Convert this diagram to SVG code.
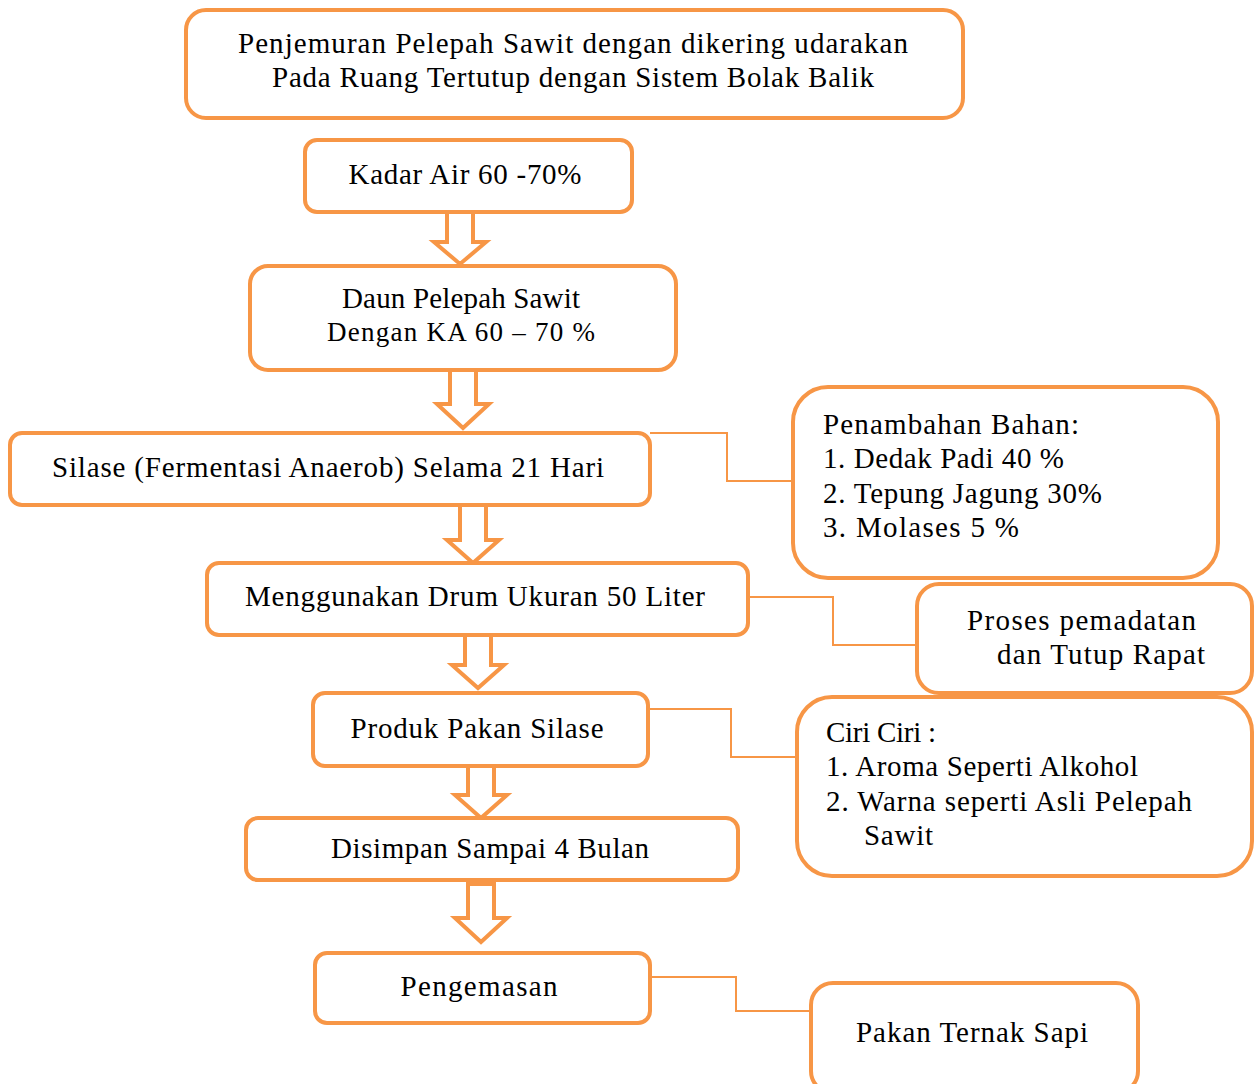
<svg xmlns="http://www.w3.org/2000/svg" width="1254" height="1084" viewBox="0 0 1254 1084">
<style>
.box{fill:#fff;stroke:#F79646;stroke-width:4}
.arr{fill:#fff;stroke:#F79646;stroke-width:4;stroke-linejoin:miter}
.con{fill:none;stroke:#F79646;stroke-width:2}
text{font-family:"Liberation Serif","DejaVu Serif",serif;font-size:29px;fill:#000}
.c{text-anchor:middle}
.t{font-size:27px}
</style>
<rect width="1254" height="1084" fill="#fff"/>
<g id="connectors">
<path class="con" d="M650 433H727V481H793"/>
<path class="con" d="M750 597H833V645H917"/>
<path class="con" d="M650 709H731V757H797"/>
<path class="con" d="M652 977H736V1011H811"/>
<path class="arr" d="M447 212H473V242H486L460 264L434 242H447Z"/>
<path class="arr" d="M450 370H476V404H489L463 428L437 404H450Z"/>
<path class="arr" d="M460 505H486V540H499L473 563L447 540H460Z"/>
<path class="arr" d="M465 632H491V665H504L478 688L452 665H465Z"/>
<path class="arr" d="M468 766H494V795H507L481 818L455 795H468Z"/>
<path class="arr" d="M468 884H494V918H507L481 942L455 918H468Z"/>
</g>
<g id="n1"><rect class="box" x="186" y="10" width="777" height="108" rx="20"/>
<text class="c" x="573" y="53" textLength="670">Penjemuran Pelepah Sawit dengan dikering udarakan</text>
<text class="c" x="573" y="87" textLength="602">Pada Ruang Tertutup dengan Sistem Bolak Balik</text></g>
<g id="n2"><rect class="box" x="305" y="140" width="327" height="72" rx="12"/>
<text class="c" x="465" y="184" textLength="233">Kadar Air 60 -70%</text></g>
<g id="n3"><rect class="box" x="250" y="266" width="426" height="104" rx="18"/>
<text class="c" x="461" y="308" textLength="238">Daun Pelepah Sawit</text>
<text class="c t" x="461" y="341" textLength="268">Dengan KA 60 – 70 %</text></g>
<g id="n4"><rect class="box" x="10" y="433" width="640" height="72" rx="12"/>
<text class="c" x="328" y="477" textLength="552">Silase (Fermentasi Anaerob) Selama 21 Hari</text></g>
<g id="n5"><rect class="box" x="207" y="563" width="541" height="72" rx="12"/>
<text class="c" x="475" y="606" textLength="460">Menggunakan Drum Ukuran 50 Liter</text></g>
<g id="n6"><rect class="box" x="313" y="693" width="335" height="73" rx="12"/>
<text class="c" x="477" y="738" textLength="253">Produk Pakan Silase</text></g>
<g id="n7"><rect class="box" x="246" y="818" width="492" height="62" rx="12"/>
<text class="c" x="490" y="858" textLength="318">Disimpan Sampai 4 Bulan</text></g>
<g id="n8"><rect class="box" x="315" y="953" width="335" height="70" rx="12"/>
<text class="c" x="479" y="996" textLength="157">Pengemasan</text></g>
<g id="n9"><rect class="box" x="793" y="387" width="425" height="191" rx="35"/>
<text x="823" y="434" textLength="256">Penambahan Bahan:</text>
<text x="823" y="468" textLength="241">1. Dedak Padi 40 %</text>
<text x="823" y="503" textLength="279">2. Tepung Jagung 30%</text>
<text x="823" y="537" textLength="196">3. Molases 5 %</text></g>
<g id="n10"><rect class="box" x="917" y="584" width="335" height="109" rx="22"/>
<text x="967" y="630" textLength="229">Proses pemadatan</text>
<text x="997" y="664" textLength="208">dan Tutup Rapat</text></g>
<g id="n11"><rect class="box" x="797" y="697" width="455" height="179" rx="35"/>
<text x="826" y="742" textLength="110">Ciri Ciri :</text>
<text x="826" y="776" textLength="312">1. Aroma Seperti Alkohol</text>
<text x="826" y="811" textLength="366">2. Warna seperti Asli Pelepah</text>
<text x="864" y="845" textLength="69">Sawit</text></g>
<g id="n12"><rect class="box" x="811" y="983" width="327" height="110" rx="22"/>
<text x="856" y="1042" textLength="232">Pakan Ternak Sapi</text></g>
</svg>
